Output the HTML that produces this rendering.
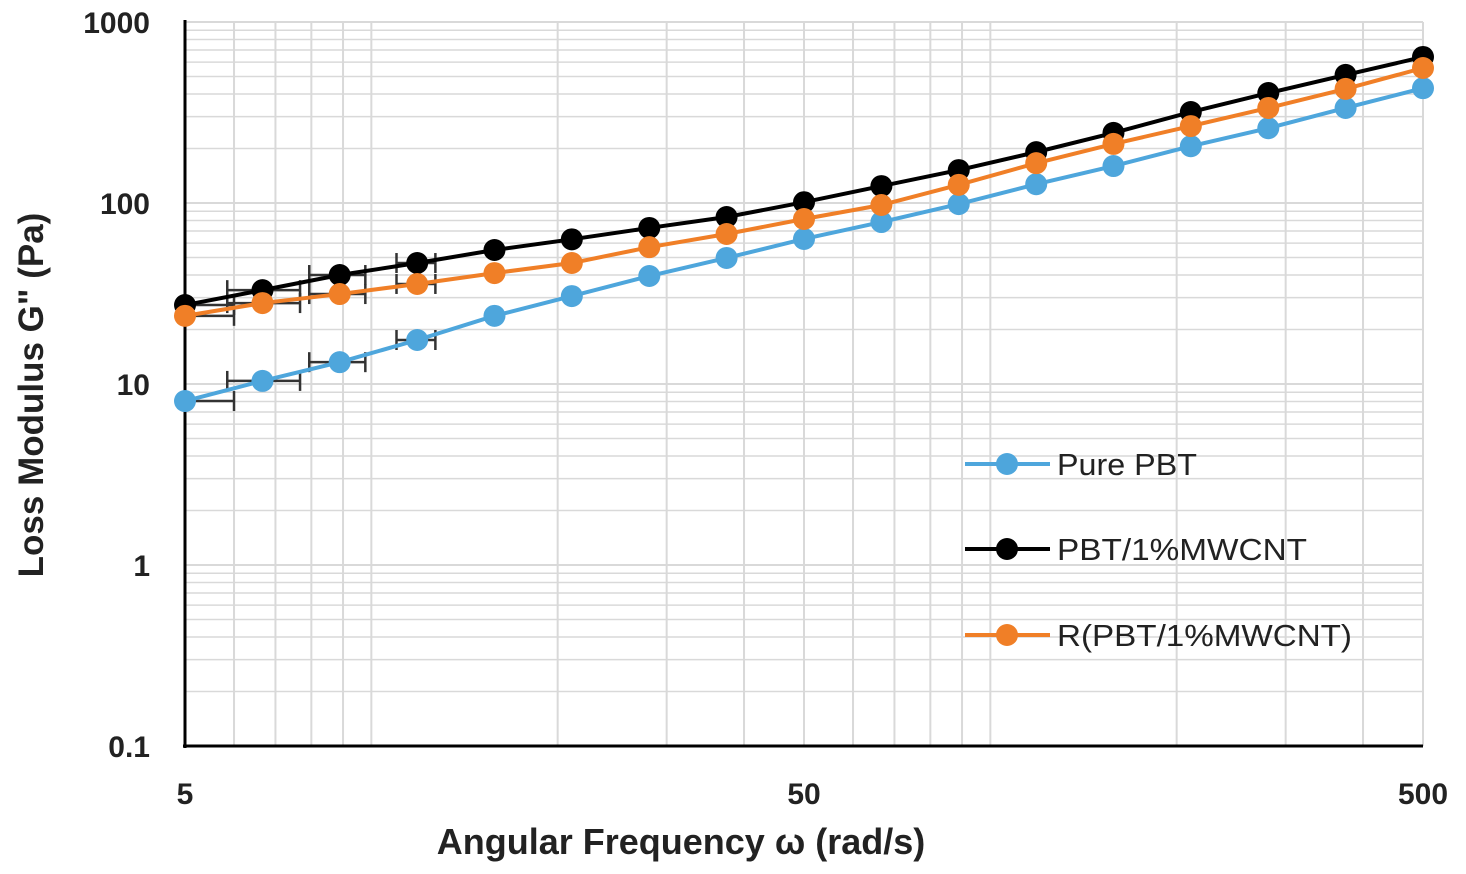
<!DOCTYPE html>
<html><head><meta charset="utf-8"><style>
body{margin:0;background:#fff;}
svg{display:block;font-family:"Liberation Sans",Arial,sans-serif;}
</style></head><body>
<svg id="chart" width="1466" height="874"></svg>
<script>
const freqs=[5,6.67,8.89,11.86,15.81,21.08,28.12,37.49,50,66.68,88.91,118.6,158.1,210.8,281.2,374.9,500];
const purePBT=[8.05,10.4,13.2,17.5,23.8,30.6,39.5,49.7,63.3,78.5,98.6,127,160,206,259,335,431];
const pbtMWCNT=[27.3,33,40,46.6,55,63,72.8,83.7,101,124,152,191,244,318,405,510,641];
const rPbtMWCNT=[23.8,28,31.4,35.7,41,46.6,57,67.4,81.6,97.5,126,166,212,266,335,427,557];
const xErrLow=[1.0,1.14,1.12,1.08];
const xErrHigh=[1.2,1.15,1.1,1.07];
const yTicks=[0.1,1,10,100,1000];
const yTickLabels=["0.1","1","10","100","1000"];
const xTicks=[5,50,500];
const xTickLabels=["5","50","500"];
const NS="http://www.w3.org/2000/svg";
const svg=document.getElementById('chart');
const X0=185,X1=1423,Y0=746,Y1=22;
const xs=v=>X0+(Math.log10(v)-Math.log10(5))/2*(X1-X0);
const ys=v=>Y0-(Math.log10(v)+1)/4*(Y0-Y1);
function mk(t,a,p){const e=document.createElementNS(NS,t);for(const k in a)e.setAttribute(k,a[k]);(p||svg).appendChild(e);return e;}
const grid=mk('g',{});


for(let d=-1;d<3;d++)for(let m=1;m<10;m++){const v=m*Math.pow(10,d);if(v>1000)break;const y=ys(v);mk('line',{x1:X0,x2:X1,y1:y,y2:y,stroke:'#d9d9d9','stroke-width':m==1?2:1.5},grid);}
mk('line',{x1:X0,x2:X1,y1:Y1,y2:Y1,stroke:'#d9d9d9','stroke-width':2},grid);
for(let d=0;d<3;d++)for(let m=1;m<10;m++){const v=m*Math.pow(10,d);if(v<5||v>500)continue;const x=xs(v);mk('line',{x1:x,x2:x,y1:Y1,y2:Y0,stroke:'#d9d9d9','stroke-width':2},grid);}
mk('line',{x1:X1,x2:X1,y1:Y1,y2:Y0,stroke:'#d9d9d9','stroke-width':2},grid);
const ax=mk('line',{x1:X0,x2:X0,y1:Y1-2,y2:Y0+2,stroke:'#000','stroke-width':3});


const bx=mk('line',{x1:X0-2,x2:X1,y1:Y0,y2:Y0,stroke:'#000','stroke-width':3});


yTicks.forEach((v,i)=>{const t=mk('text',{x:150,y:ys(v)+11,'text-anchor':'end','font-size':30,'font-weight':'bold',fill:'#222'});t.textContent=yTickLabels[i];

});
xTicks.forEach((v,i)=>{const t=mk('text',{x:xs(v),y:804,'text-anchor':'middle','font-size':30,'font-weight':'bold',fill:'#222'});t.textContent=xTickLabels[i];

});
const xt=mk('text',{x:681,y:854,'text-anchor':'middle','font-size':36,'font-weight':'bold',fill:'#222'});xt.textContent='Angular Frequency ω (rad/s)';


const yt=mk('text',{x:0,y:0,transform:'translate(43,395) rotate(-90)','text-anchor':'middle','font-size':35,'font-weight':'bold',fill:'#222'});yt.textContent='Loss Modulus G" (Pa)';


const series=[[purePBT,'#4ea6dc','pure-pbt'],[pbtMWCNT,'#000','pbt-mwcnt'],[rPbtMWCNT,'#f07f27','r-pbt-mwcnt']];
series.forEach(([vals,c,n])=>{const g=mk('g',{});


xErrLow.forEach((f,i)=>{const y=ys(vals[i]);const xa=xs(freqs[i]/f),xb=xs(freqs[i]*xErrHigh[i]);
mk('line',{x1:xa,x2:xb,y1:y,y2:y,stroke:'#333','stroke-width':2.5},g);
if(i>0)mk('line',{x1:xa,x2:xa,y1:y-10,y2:y+10,stroke:'#333','stroke-width':2.5},g);
mk('line',{x1:xb,x2:xb,y1:y-10,y2:y+10,stroke:'#333','stroke-width':2.5},g);});});
series.forEach(([vals,c,n])=>{const g=mk('g',{});


mk('polyline',{points:vals.map((v,i)=>xs(freqs[i])+','+ys(v)).join(' '),fill:'none',stroke:c,'stroke-width':4},g);
vals.forEach((v,i)=>{const p=mk('circle',{cx:xs(freqs[i]),cy:ys(v),r:11,fill:c},g);

});});
const legendNames=['Pure PBT','PBT/1%MWCNT','R(PBT/1%MWCNT)'];
const legY=[464,549,635];
series.forEach(([vals,c,n],i)=>{const g=mk('g',{});


mk('line',{x1:965,x2:1050,y1:legY[i],y2:legY[i],stroke:c,'stroke-width':4},g);
mk('circle',{cx:1007,cy:legY[i],r:11,fill:c},g);
const t=mk('text',{x:1057,y:legY[i]+11,'font-size':31,fill:'#222','textLength':[140,250,295][i],'lengthAdjust':'spacingAndGlyphs'},g);t.textContent=legendNames[i];});
</script>
</body></html>
